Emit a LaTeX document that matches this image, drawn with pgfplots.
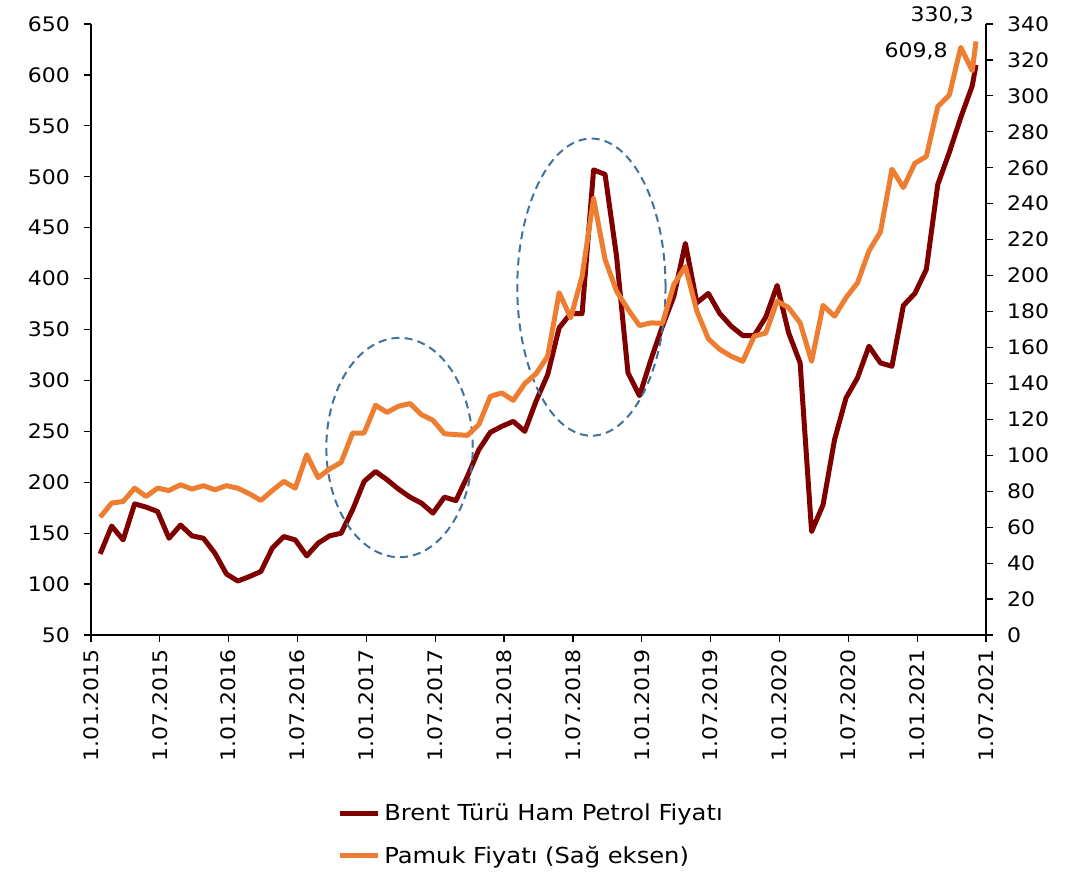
\documentclass[border=0pt]{standalone}
\usepackage{fontspec}
\setmainfont{DejaVu Sans}[FakeStretch=1.1]
\usepackage{pgfplots}
\usepackage{pgfplotstable}
\pgfplotsset{compat=1.18}
\definecolor{brent}{HTML}{800000}
\definecolor{pamuk}{HTML}{ED7D31}
\definecolor{ell}{HTML}{41719C}

\pgfplotstableread{
x y
0.8 129.7
1.8 157
2.8 143.4
3.8 178.8
4.8 175.6
5.8 171.3
6.8 145
7.8 158
8.8 147.4
9.8 145
10.8 130.3
11.8 110
12.8 103
13.8 107.4
14.8 112.3
15.8 135.3
16.8 146.7
17.8 143.4
18.8 127.7
19.8 140.2
20.8 147.4
21.8 150
22.8 173
23.8 200.8
24.8 210.6
25.8 202.5
26.8 193.3
27.8 185.4
28.8 179.5
29.8 169.7
30.8 185.4
31.8 182
32.8 205.7
33.8 232
34.8 249
35.8 254.9
36.8 259.8
37.8 250
38.8 280
39.8 305.7
40.8 351.7
41.8 365.7
42.8 365.7
43.8 506.7
44.8 502.4
45.8 422
46.8 307.4
47.8 285
48.8 320.5
49.8 353.2
50.8 382.7
51.8 434.6
52.8 376.2
53.8 385.4
54.8 365.7
55.8 353.2
56.8 344.1
57.8 344.1
58.8 362
59.8 393.3
60.8 346.7
61.8 317.2
62.8 151.6
63.8 177.9
64.8 241.8
65.8 282.8
66.8 302.5
67.8 333.6
68.8 317.2
69.8 313.9
70.8 373.6
71.8 385.4
72.8 409
73.8 492.6
74.8 523.8
75.8 558.2
76.8 589.3
77.13 609.8
}\brenttab

\pgfplotstableread{
x y
0.8 65.6
1.8 73.4
2.8 74.3
3.8 81.7
4.8 77.1
5.8 81.7
6.8 80.4
7.8 83.6
8.8 81.2
9.8 83.1
10.8 80.8
11.8 83.1
12.8 81.7
13.8 78.6
14.8 74.9
15.8 80.4
16.8 85.5
17.8 81.7
18.8 100.3
19.8 87.6
20.8 92.4
21.8 96.1
22.8 112.4
23.8 112.4
24.8 127.8
25.8 123.9
26.8 127.3
27.8 128.8
28.8 122.6
29.8 119.5
30.8 112
31.8 111.5
32.8 111.1
33.8 117.1
34.8 132.8
35.8 134.7
36.8 130.6
37.8 139.9
38.8 145.5
39.8 155.1
40.8 190.5
41.8 176.5
42.8 199.7
43.8 242.9
44.8 209
45.8 191.4
46.8 181.2
47.8 172.2
48.8 173.7
49.8 173.4
50.8 195.1
51.8 205
52.8 180.2
53.8 164.8
54.8 158.9
55.8 155.1
56.8 152.3
57.8 166.3
58.8 168
59.8 185.8
60.8 182.1
61.8 173.7
62.8 152.3
63.8 183.4
64.8 177.4
65.8 187.7
66.8 196
67.8 213.7
68.8 224.3
69.8 259.2
70.8 249
71.8 262.5
72.8 266.3
73.8 294.1
74.8 300.4
75.8 327
76.8 314
77.13 330.3
}\pamuktab

\begin{document}
\begin{tikzpicture}
\path[use as bounding box] (0,0) rectangle (545.5pt,437.5pt);
\pgfplotsset{
  common/.style={
    at={(45.5pt,120pt)}, anchor=south west,
    scale only axis, width=447.5pt, height=305.5pt,
    xmin=0, xmax=78,
    tick align=outside, major tick length=3.5pt,
    tick style={black, line width=0.6pt},
    axis line style={black, line width=1pt, -},
    /pgf/number format/assume math mode=true,
    ticklabel style={font=\fontsize{10}{12}\selectfont},
    clip=false,
  }
}
\begin{axis}[common,
  ymin=50, ymax=650,
  axis x line*=bottom, axis y line*=left,
  xtick={0,6,...,78},
  xticklabels={1.01.2015,1.07.2015,1.01.2016,1.07.2016,1.01.2017,1.07.2017,1.01.2018,1.07.2018,1.01.2019,1.07.2019,1.01.2020,1.07.2020,1.01.2021,1.07.2021},
  xticklabel style={rotate=90, anchor=east},
  ytick={50,100,...,650},
  yticklabel style={xshift=-3.5pt},
  legend style={at={(0.268,-0.327)}, anchor=west, draw=none, fill=none,
    font=\fontsize{11}{13}\selectfont, row sep=7.3pt},
  legend cell align=left,
  legend image code/.code={\draw[#1] (0pt,0pt) -- (19pt,0pt);},
]
\addplot[brent, line width=2.5pt, line join=round] table {\brenttab};
\addlegendentry{Brent Türü Ham Petrol Fiyatı}
\addlegendimage{pamuk, line width=2.5pt}
\addlegendentry{Pamuk Fiyatı (Sağ eksen)}
\draw[ell, line width=1pt, dash pattern=on 4pt off 2.6pt] (axis cs:26.89,234.1) ellipse [x radius=6.38, y radius=107.7];
\draw[ell, line width=1pt, dash pattern=on 4pt off 2.6pt] (axis cs:43.61,391.6) ellipse [x radius=6.46, y radius=145.9];
\node[font=\fontsize{10}{12}\selectfont] at (axis cs:74.17,658.8) {330,3};
\node[font=\fontsize{10}{12}\selectfont] at (axis cs:71.9,622.9) {609,8};
\end{axis}
\begin{axis}[common,
  ymin=0, ymax=340,
  axis x line=none, axis y line*=right,
  ytick={0,20,...,340},
  yticklabel style={xshift=3.5pt},
]
\addplot[pamuk, line width=2.5pt, line join=round] table {\pamuktab};
\end{axis}
\end{tikzpicture}
\end{document}
